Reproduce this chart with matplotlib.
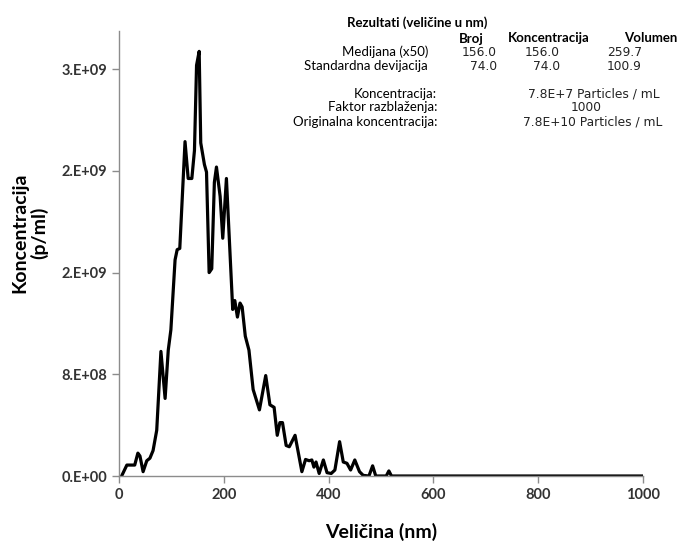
import numpy as np
import matplotlib
matplotlib.use("Agg")
import matplotlib.pyplot as plt

# velicina (nm) i koncentracija (p/ml), ocitano sa slike
velicina = [5, 15, 30, 36, 40, 46, 53, 59, 65, 72, 80, 88, 94, 99, 107, 111, 116,
            126, 132, 139, 144, 148, 153, 156, 163, 167, 172, 177, 182, 186, 193,
            198, 205, 217, 221, 226, 231, 235, 241, 248, 256, 268, 280, 288, 296,
            302, 307, 312, 319, 325, 336, 349, 356, 363, 368, 372, 376, 382, 390,
            397, 405, 412, 421, 428, 435, 442, 450, 459, 466, 477, 484, 490, 510,
            515, 520, 1000]
koncentracija_e8 = [0, 0.86, 0.86, 1.8, 1.57, 0.34, 1.2, 1.4, 2.0, 3.6, 9.8, 6.1,
                    9.9, 11.5, 17.0, 17.8, 17.9, 26.3, 23.4, 23.4, 25.6, 32.3, 33.4,
                    26.2, 24.5, 23.9, 16.0, 16.3, 23.1, 24.3, 22.0, 18.7, 23.4, 13.1,
                    13.8, 12.5, 13.6, 13.3, 11.0, 9.9, 6.8, 5.2, 7.9, 5.6, 5.4, 3.2,
                    4.2, 4.2, 2.4, 2.3, 3.2, 0.34, 1.3, 1.2, 1.26, 0.7, 1.1, 0.2,
                    1.26, 0.26, 0.2, 0.47, 2.7, 1.1, 1.0, 0.47, 1.26, 0.34, 0.05, 0,
                    0.8, 0, 0, 0.4, 0, 0]

y_ticks = [0, 8e8, 1.6e9, 2.4e9, 3.2e9]
y_tick_labels = ["0.E+00", "8.E+08", "2.E+09", "2.E+09", "3.E+09"]
x_ticks = [0, 200, 400, 600, 800, 1000]

# tabela rezultata
kolone = ["Broj", "Koncentracija", "Volumen"]
redovi = ["Medijana (x50)", "Standardna devijacija"]
broj = ["156.0", "74.0"]
konc = ["156.0", "74.0"]
volumen = ["259.7", "100.9"]
info_labele = ["Koncentracija:", "Faktor razblaženja:", "Originalna koncentracija:"]
info_vrijednosti = ["7.8E+7 Particles / mL", "1000", "7.8E+10 Particles / mL"]

W, H = 683, 545
CAL = ["Lato", "DejaVu Sans"]
NUM = ["DejaVu Sans"]


def px(x, y):
    return x / W, 1 - y / H


def main():
    fig = plt.figure(figsize=(W / 100, H / 100), dpi=100)
    ax = fig.add_axes([119 / W, (H - 476) / H, (643 - 119) / W, (476 - 31) / H])

    y = np.array(koncentracija_e8) * 1e8
    ax.plot(velicina, y, color="black", lw=2.3, solid_joinstyle="round")

    ax.set_xlim(0, 1000)
    ax.set_ylim(0, 3.5e9)
    ax.set_xticks(x_ticks)
    ax.set_yticks(y_ticks)
    ax.set_yticklabels(y_tick_labels)
    for s in ["top", "right"]:
        ax.spines[s].set_visible(False)
    for s in ["left", "bottom"]:
        ax.spines[s].set_color("#8c8c8c")
        ax.spines[s].set_linewidth(1.0)
    ax.tick_params(colors="#8c8c8c", length=5, width=1.0, labelcolor="#333333")
    for lab in ax.get_xticklabels() + ax.get_yticklabels():
        lab.set_family(CAL)
        lab.set_fontweight("bold")
        lab.set_fontsize(10.5)

    ax.set_xlabel("Veličina (nm)", family=CAL, fontweight="bold", fontsize=14,
                  labelpad=15)
    fig.text(*px(30, 233), "Koncentracija\n(p/ml)", family=CAL, fontweight="bold",
             fontsize=14, rotation=90, ha="center", va="center", linespacing=1.1)

    # tekst gore desno
    fig.text(*px(417, 23), "Rezultati (veličine u nm)", family=CAL,
             fontweight="bold", fontsize=9.5, ha="center", va="center")
    fig.text(*px(471, 39), kolone[0], family=CAL, fontweight="bold", fontsize=9.5,
             ha="center", va="center")
    fig.text(*px(549, 38), kolone[1], family=CAL, fontweight="bold", fontsize=9.5,
             ha="center", va="center")
    fig.text(*px(651, 38), kolone[2], family=CAL, fontweight="bold", fontsize=9.5,
             ha="center", va="center")
    for i, yy in enumerate([52, 66]):
        fig.text(*px(428, yy), redovi[i], family=CAL, fontsize=9.5, ha="right",
                 va="center")
        fig.text(*px(497, yy), broj[i], family=NUM, fontsize=8.8, ha="right",
                 va="center", color="#222222")
        fig.text(*px(560, yy), konc[i], family=NUM, fontsize=8.8, ha="right",
                 va="center", color="#222222")
        fig.text(*px(607, yy), volumen[i], family=NUM, fontsize=8.8, ha="left",
                 va="center", color="#222222")
    for i, yy in enumerate([94, 107, 122]):
        fig.text(*px(437, yy), info_labele[i], family=CAL, fontsize=9.5, ha="right",
                 va="center")
    for i, (xx, yy) in enumerate([(594, 94), (586, 107), (593, 122)]):
        fig.text(*px(xx, yy), info_vrijednosti[i], family=NUM, fontsize=8.8,
                 ha="center", va="center", color="#222222")

    fig.savefig("out.png", dpi=100)


if __name__ == "__main__":
    main()
